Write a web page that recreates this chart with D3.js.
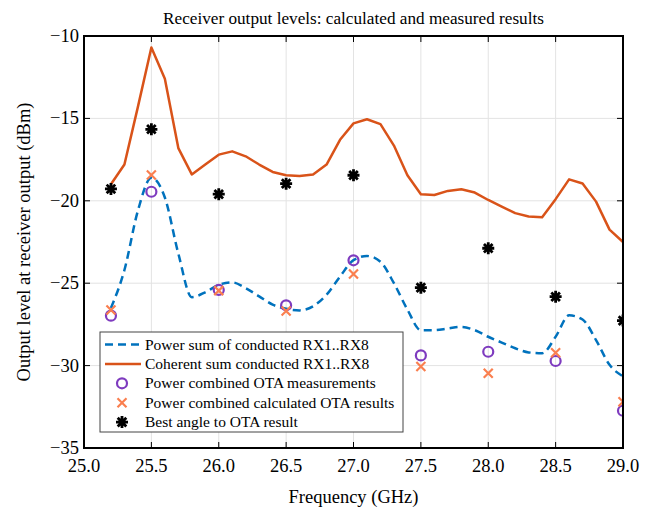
<!DOCTYPE html>
<html>
<head>
<meta charset="utf-8">
<script src="https://cdn.jsdelivr.net/npm/d3@7"></script>
<style>
  body { margin: 0; background: #fff; }
  svg { font-family: "Liberation Serif", "Times New Roman", serif; }
</style>
</head>
<body>
<svg width="651" height="512"></svg>
<script>
// frequencies (GHz) of the conducted curves
const lineFreq = [25.2, 25.3, 25.4, 25.5, 25.6, 25.7, 25.8, 25.9, 26.0, 26.1, 26.2, 26.3, 26.4,
  26.5, 26.6, 26.7, 26.8, 26.9, 27.0, 27.1, 27.2, 27.3, 27.4, 27.5, 27.6, 27.7, 27.8, 27.9,
  28.0, 28.1, 28.2, 28.3, 28.4, 28.5, 28.6, 28.7, 28.8, 28.9, 29.0];
const powerSum = [-26.5, -24.2, -20.6, -18.6, -19.8, -23.2, -25.85, -25.55, -25.1, -24.95, -25.3, -25.8, -26.3,
  -26.55, -26.65, -26.4, -25.7, -24.6, -23.6, -23.35, -23.7, -25.0, -26.6, -27.85, -27.85, -27.75, -27.65, -27.85,
  -28.25, -28.6, -28.95, -29.2, -29.25, -28.25, -26.95, -27.2, -28.45, -29.95, -30.65];
const coherentSum = [-19.0, -17.8, -14.3, -10.7, -12.6, -16.8, -18.4, -17.8, -17.2, -17.0, -17.3, -17.8, -18.25,
  -18.45, -18.5, -18.4, -17.8, -16.3, -15.3, -15.05, -15.35, -16.65, -18.45, -19.6, -19.65, -19.4, -19.3, -19.5,
  -19.95, -20.35, -20.75, -20.95, -21.0, -19.9, -18.7, -18.95, -20.05, -21.75, -22.5];

// OTA measurement frequencies and results
const otaFreq = [25.2, 25.5, 26.0, 26.5, 27.0, 27.5, 28.0, 28.5, 29.0];
const otaMeasured = [-26.97, -19.45, -25.41, -26.34, -23.61, -29.38, -29.16, -29.72, -32.74];
const otaCalculated = [-26.63, -18.43, -25.45, -26.69, -24.44, -30.06, -30.47, -29.22, -32.19];
const bestAngle = [-19.28, -15.66, -19.6, -18.96, -18.45, -25.27, -22.88, -25.82, -27.27];

const xTicks = [25.0, 25.5, 26.0, 26.5, 27.0, 27.5, 28.0, 28.5, 29.0];
const yTicks = [-35, -30, -25, -20, -15, -10];
const legendLabels = [
  "Power sum of conducted RX1..RX8",
  "Coherent sum conducted RX1..RX8",
  "Power combined OTA measurements",
  "Power combined calculated OTA results",
  "Best angle to OTA result"
];

const svg = d3.select("svg");
const width = 651, height = 512;
const margin = ({top: 36, right: 28, bottom: 64, left: 84});
const colors = {blue: "#0072BD", orange: "#D95319", purple: "#7E3BBF", coral: "#FA7F4F", black: "#000"};

const x = d3.scaleLinear().domain([25, 29]).range([margin.left, width - margin.right]);
const y = d3.scaleLinear().domain([-35, -10]).range([height - margin.bottom, margin.top]);
const fmtY = d => d3.format("d")(d).replace("-", "\u2212");

// grid
const grid = svg.append("g").attr("stroke", "#e3e3e3").attr("stroke-width", 1);
grid.selectAll(".gx").data(xTicks.slice(1, -1)).join("line")
    .attr("x1", d => x(d)).attr("x2", d => x(d))
    .attr("y1", y(-35)).attr("y2", y(-10));
grid.selectAll(".gy").data(yTicks.slice(1, -1)).join("line")
    .attr("x1", x(25)).attr("x2", x(29))
    .attr("y1", d => y(d)).attr("y2", d => y(d));

// data, clipped to the axes box
svg.append("clipPath").attr("id", "clip")
  .append("rect")
    .attr("x", x(25)).attr("y", y(-10))
    .attr("width", x(29) - x(25)).attr("height", y(-35) - y(-10));
const plot = svg.append("g").attr("clip-path", "url(#clip)");

const powerLine = d3.line()
    .x((d, i) => x(lineFreq[i]))
    .y(d => y(d))
    .curve(d3.curveMonotoneX);
const cohLine = d3.line()
    .x((d, i) => x(lineFreq[i]))
    .y(d => y(d));

plot.append("path")
    .attr("d", powerLine(powerSum))
    .attr("fill", "none")
    .attr("stroke", colors.blue)
    .attr("stroke-width", 2.5)
    .attr("stroke-dasharray", "8,5");
plot.append("path")
    .attr("d", cohLine(coherentSum))
    .attr("fill", "none")
    .attr("stroke", colors.orange)
    .attr("stroke-width", 2.5)
    .attr("stroke-linejoin", "round");

const circlePath = "M5,0A5,5 0 1,1 -5,0A5,5 0 1,1 5,0Z";
const crossPath = "M-4.5,-4.5L4.5,4.5M-4.5,4.5L4.5,-4.5";
const starPath = "M-6,0H6M0,-6V6M-4.3,-4.3L4.3,4.3M-4.3,4.3L4.3,-4.3";

function markers(g, values, path, color, sw) {
  g.selectAll(null).data(values).join("path")
      .attr("transform", (d, i) => `translate(${x(otaFreq[i])},${y(d)})`)
      .attr("d", path)
      .attr("fill", "none")
      .attr("stroke", color)
      .attr("stroke-width", sw);
}
markers(plot.append("g"), otaMeasured, circlePath, colors.purple, 2.2);
markers(plot.append("g"), otaCalculated, crossPath, colors.coral, 2.2);
markers(plot.append("g"), bestAngle, starPath, colors.black, 2.8);

// axes box and ticks
const axes = svg.append("g").attr("stroke", "#000");
axes.append("rect")
    .attr("x", x(25)).attr("y", y(-10))
    .attr("width", x(29) - x(25)).attr("height", y(-35) - y(-10))
    .attr("fill", "none").attr("stroke-width", 2);
axes.selectAll(".tx").data(xTicks.slice(1, -1)).join("path")
    .attr("d", d => `M${x(d)},${y(-35)}v-6M${x(d)},${y(-10)}v6`)
    .attr("stroke-width", 1);
axes.selectAll(".ty").data(yTicks.slice(1, -1)).join("path")
    .attr("d", d => `M${x(25)},${y(d)}h6M${x(29)},${y(d)}h-6`)
    .attr("stroke-width", 1);

// tick labels
svg.append("g").selectAll("text").data(xTicks).join("text")
    .attr("x", d => x(d)).attr("y", y(-35) + 24)
    .attr("text-anchor", "middle")
    .attr("font-size", 18.5)
    .text(d => d.toFixed(1));
svg.append("g").selectAll("text").data(yTicks).join("text")
    .attr("x", x(25) - 5).attr("y", d => y(d) + 6)
    .attr("text-anchor", "end")
    .attr("font-size", 18.5)
    .text(fmtY);

// titles
svg.append("text")
    .attr("x", (x(25) + x(29)) / 2).attr("y", 24)
    .attr("text-anchor", "middle").attr("font-size", 17.2)
    .text("Receiver output levels: calculated and measured results");
svg.append("text")
    .attr("x", (x(25) + x(29)) / 2).attr("y", 503)
    .attr("text-anchor", "middle").attr("font-size", 18.5)
    .text("Frequency (GHz)");
svg.append("text")
    .attr("transform", `translate(30,${(y(-10) + y(-35)) / 2}) rotate(-90)`)
    .attr("text-anchor", "middle").attr("font-size", 18.5)
    .text("Output level at receiver output (dBm)");

// legend
const legend = svg.append("g").attr("transform", "translate(100,332)");
legend.append("rect")
    .attr("width", 303).attr("height", 100)
    .attr("fill", "#fff").attr("stroke", "#444").attr("stroke-width", 1);
const rows = legend.selectAll("g").data(legendLabels).join("g")
    .attr("transform", (d, i) => `translate(0,${12.5 + i * 19.4})`);
rows.append("text")
    .attr("x", 45).attr("y", 5)
    .attr("font-size", 15.5)
    .text(d => d);
const legendKeys = [
  g => g.append("path").attr("d", "M5,0H41").attr("stroke", colors.blue).attr("stroke-width", 2.5).attr("stroke-dasharray", "8,5"),
  g => g.append("path").attr("d", "M5,0H41").attr("stroke", colors.orange).attr("stroke-width", 2.5),
  g => g.append("path").attr("d", circlePath).attr("transform", "translate(22,0)").attr("fill", "none").attr("stroke", colors.purple).attr("stroke-width", 2.2),
  g => g.append("path").attr("d", crossPath).attr("transform", "translate(22,0)").attr("stroke", colors.coral).attr("stroke-width", 2.2),
  g => g.append("path").attr("d", starPath).attr("transform", "translate(22,0)").attr("stroke", colors.black).attr("stroke-width", 2.8)
];
rows.each(function(d, i) { legendKeys[i](d3.select(this)); });
</script>
</body>
</html>
